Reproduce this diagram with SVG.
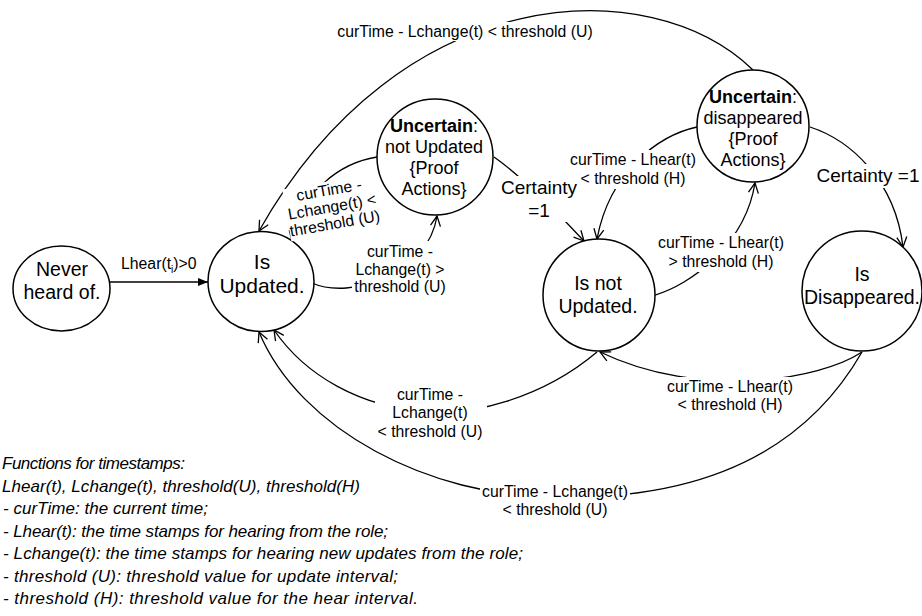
<svg xmlns="http://www.w3.org/2000/svg" width="922" height="616" viewBox="0 0 922 616">
  <style>
    .node { fill: #fff; stroke: #000; stroke-width: 1.5; }
    .nt { font-family: "Liberation Sans", Arial, sans-serif; font-size: 19.5px; fill: #000; text-anchor: middle; }
    .ut { font-family: "Liberation Sans", Arial, sans-serif; font-size: 18px; fill: #000; text-anchor: middle; }
    .edge { fill: none; stroke: #000; stroke-width: 1.3; }
    .arr { marker-end: url(#open); }
    .el { font-family: "Liberation Sans", Arial, sans-serif; font-size: 15.8px; fill: #000; text-anchor: middle; }
    .el-start { font-family: "Liberation Sans", Arial, sans-serif; font-size: 15.8px; fill: #000; text-anchor: start; }
    .cl { font-family: "Liberation Sans", Arial, sans-serif; font-size: 19px; fill: #000; text-anchor: middle; }
    .bg { fill: #fff; stroke: none; }
    .legend { font-family: "Liberation Sans", Arial, sans-serif; font-size: 17px; font-style: italic; fill: #000; }
  </style>
  <defs>
    <marker id="open" viewBox="0 0 12 12" refX="11" refY="6" markerWidth="12" markerHeight="12" markerUnits="userSpaceOnUse" orient="auto">
      <path d="M1,1 L11,6 L1,11" fill="none" stroke="#000" stroke-width="1.3"/>
    </marker>
    <marker id="filled" viewBox="0 0 10 8" refX="10" refY="4" markerWidth="10" markerHeight="8" markerUnits="userSpaceOnUse" orient="auto">
      <path d="M0,0 L10,4 L0,8 Z" fill="#000"/>
    </marker>
  </defs>

  <!-- transitions -->
  <g id="connectors">
    <path class="edge" d="M110,282 L208,282" marker-end="url(#filled)"/>
    <path class="edge arr" d="M753,70 C 650,-30 400,-20 259,231"/>
    <path class="edge arr" d="M312,283 C 350,300 428,275 437,216"/>
    <path class="edge arr" d="M377,157 C 340,163 303,190 292,241"/>
    <path class="edge arr" d="M494,157 C 520,175 560,215 584,241"/>
    <path class="edge arr" d="M655,295 C 690,285 745,245 755,183"/>
    <path class="edge arr" d="M697,127 C 660,135 610,170 597,239"/>
    <path class="edge arr" d="M810,127 C 850,140 895,180 903,247"/>
    <path class="edge arr" d="M862,352 C 820,380 700,400 600,352"/>
    <path class="edge arr" d="M862,352 C 800,460 690,500 555,497 C 430,497 300,430 259,332"/>
    <path class="edge arr" d="M597,352 C 540,400 470,415 430,412 C 360,408 305,375 274,330"/>
  </g>

  <!-- states -->
  <g id="never-heard">
    <ellipse class="node" cx="61.5" cy="288.5" rx="48.5" ry="42.5"/>
    <text class="nt" x="62" y="276">Never</text>
    <text class="nt" x="62" y="299">heard of.</text>
  </g>
  <g id="is-updated">
    <ellipse class="node" cx="261" cy="281.5" rx="53" ry="50"/>
    <text class="nt" x="262" y="269" font-size="21px" style="font-size:21px">Is</text>
    <text class="nt" x="262" y="293" style="font-size:21px">Updated.</text>
  </g>
  <g id="uncertain-not-updated">
    <circle class="node" cx="435" cy="157" r="58"/>
    <text class="ut" x="434" y="132"><tspan font-weight="bold">Uncertain</tspan>:</text>
    <text class="ut" x="434" y="153">not Updated</text>
    <text class="ut" x="434" y="174">{Proof</text>
    <text class="ut" x="434" y="195">Actions}</text>
  </g>
  <g id="uncertain-disappeared">
    <circle class="node" cx="753" cy="126" r="56"/>
    <text class="ut" x="753" y="103"><tspan font-weight="bold">Uncertain</tspan>:</text>
    <text class="ut" x="753" y="124">disappeared</text>
    <text class="ut" x="753" y="145">{Proof</text>
    <text class="ut" x="753" y="166">Actions}</text>
  </g>
  <g id="is-not-updated">
    <circle class="node" cx="599" cy="295" r="56"/>
    <text class="nt" x="598" y="290">Is not</text>
    <text class="nt" x="598" y="313">Updated.</text>
  </g>
  <g id="is-disappeared">
    <circle class="node" cx="862" cy="291" r="60"/>
    <text class="nt" x="862" y="281">Is</text>
    <text class="nt" x="862" y="304">Disappeared.</text>
  </g>

  <!-- transition labels -->
  <g id="edge-labels">
    <text class="el-start" x="121" y="269">Lhear(t<tspan font-size="10px" dy="4">i</tspan><tspan dy="-4">)&gt;0</tspan></text>

    <rect class="bg" x="335" y="22" width="261" height="19"/>
    <text class="el" x="465" y="37">curTime - Lchange(t) &lt; threshold (U)</text>

    <rect class="bg" x="352" y="241" width="96" height="56"/>
    <text class="el" x="400" y="257">curTime -</text>
    <text class="el" x="400" y="275">Lchange(t) &gt;</text>
    <text class="el" x="400" y="292">threshold (U)</text>

    <g transform="rotate(-10 332 207)">
      <rect class="bg" x="286" y="181" width="92" height="53"/>
      <text class="el" x="332" y="195">curTime -</text>
      <text class="el" x="332" y="212">Lchange(t) &lt;</text>
      <text class="el" x="332" y="229">threshold (U)</text>
    </g>

    <rect class="bg" x="568" y="150" width="131" height="39"/>
    <text class="el" x="633" y="165">curTime - Lhear(t)</text>
    <text class="el" x="633" y="184">&lt; threshold (H)</text>

    <rect class="bg" x="499" y="176" width="78" height="46"/>
    <text class="cl" x="539" y="194">Certainty</text>
    <text class="cl" x="539" y="217">=1</text>

    <rect class="bg" x="655" y="233" width="133" height="39"/>
    <text class="el" x="721" y="248">curTime - Lhear(t)</text>
    <text class="el" x="721" y="267">&gt; threshold (H)</text>

    <rect class="bg" x="815" y="164" width="107" height="24"/>
    <text class="cl" x="868" y="182">Certainty =1</text>

    <rect class="bg" x="664" y="377" width="133" height="39"/>
    <text class="el" x="730" y="392">curTime - Lhear(t)</text>
    <text class="el" x="730" y="410">&lt; threshold (H)</text>

    <rect class="bg" x="480" y="482" width="150" height="38"/>
    <text class="el" x="555" y="497">curTime - Lchange(t)</text>
    <text class="el" x="555" y="515">&lt; threshold (U)</text>

    <rect class="bg" x="375" y="385" width="112" height="57"/>
    <text class="el" x="430" y="400">curTime -</text>
    <text class="el" x="430" y="418">Lchange(t)</text>
    <text class="el" x="430" y="437">&lt; threshold (U)</text>
  </g>

  <!-- legend -->
  <g id="legend">
    <text class="legend" x="2" y="469" textLength="183" lengthAdjust="spacing">Functions for timestamps:</text>
    <text class="legend" x="2" y="491.5" textLength="358" lengthAdjust="spacing">Lhear(t), Lchange(t), threshold(U), threshold(H)</text>
    <text class="legend" x="3" y="514" textLength="205" lengthAdjust="spacing">- curTime: the current time;</text>
    <text class="legend" x="3" y="536.5" textLength="385" lengthAdjust="spacing">- Lhear(t): the time stamps for hearing from the role;</text>
    <text class="legend" x="3" y="559" textLength="520" lengthAdjust="spacing">- Lchange(t): the time stamps for hearing new updates from the role;</text>
    <text class="legend" x="3" y="581.5" textLength="395" lengthAdjust="spacing">- threshold (U): threshold value for update interval;</text>
    <text class="legend" x="3" y="604" textLength="415" lengthAdjust="spacing">- threshold (H): threshold value for the hear interval.</text>
  </g>
</svg>
